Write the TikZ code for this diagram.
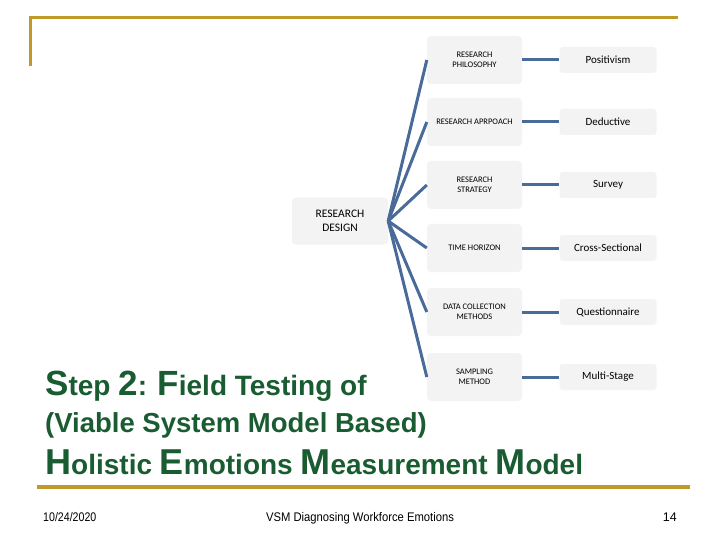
\documentclass[tikz,border=0pt]{standalone}
\usepackage{fontspec}
\setmainfont{Liberation Sans}
\newfontfamily\carl{Carlito}
\definecolor{gold}{HTML}{C09A28}
\definecolor{ttl}{HTML}{1A5C32}
\definecolor{ln}{HTML}{4A6A9A}
\definecolor{bx}{HTML}{F3F3F3}
\begin{document}
\begin{tikzpicture}[x=1pt,y=-1pt,
  mid/.style={fill=bx,rounded corners=4pt,minimum width=95pt,minimum height=48pt,align=center,font=\carl\fontsize{8.5}{10}\selectfont,inner sep=1pt},
  rt/.style={fill=bx,rounded corners=3pt,minimum width=97pt,minimum height=26pt,font=\carl\fontsize{11}{12}\selectfont},
  con/.style={draw=ln,line width=3pt}]
\useasboundingbox (0,0) rectangle (720,540);
\draw[gold,line width=3pt] (30,66) -- (30,18) -- (678,18);
\draw[gold,line width=3.5pt] (37,487) -- (690,487);
\node[fill=bx,rounded corners=4pt,minimum width=96pt,minimum height=47pt,align=center,font=\carl\fontsize{11.5}{14}\selectfont] (rd) at (340,221) {RESEARCH\\DESIGN};
\foreach \n/\y/\a/\b in {1/60/RESEARCH\\PHILOSOPHY/Positivism,2/122/RESEARCH APRPOACH/Deductive,3/185/RESEARCH\\STRATEGY/Survey,4/248/TIME HORIZON/Cross-Sectional,5/312/DATA COLLECTION\\METHODS/Questionnaire,6/377/SAMPLING\\METHOD/Multi-Stage}{
  \node[mid] (m\n) at (474.5,\y) {\a};
  \node[rt] (r\n) at (608,\y) {\b};
  \draw[con] (rd.east) -- (m\n.west);
  \draw[con] (m\n.east) -- (r\n.west);
}
\node[anchor=base west,text=ttl,font=\bfseries,inner sep=0] (t1) at (45,395) {\fontsize{35}{35}\selectfont S\fontsize{28}{28}\selectfont tep \fontsize{35}{35}\selectfont 2\fontsize{28}{28}\selectfont : \fontsize{35}{35}\selectfont F\fontsize{28}{28}\selectfont ield Testing of};
\node[anchor=base west,text=ttl,font=\bfseries,inner sep=0] (t2) at (45,432) {\fontsize{27.5}{28}\selectfont (Viable System Model Based)};
\node[anchor=base west,text=ttl,font=\bfseries,inner sep=0] (t3) at (45,474) {\fontsize{36}{36}\selectfont H\fontsize{28}{28}\selectfont olistic \fontsize{36}{36}\selectfont E\fontsize{28}{28}\selectfont motions \fontsize{36}{36}\selectfont M\fontsize{28}{28}\selectfont easurement \fontsize{36}{36}\selectfont M\fontsize{28}{28}\selectfont odel};
\node[anchor=base west,font=\fontsize{12.5}{12.5}\selectfont,inner sep=0] (d) at (43,521) {\scalebox{0.85}[1]{10/24/2020}};
\node[anchor=base,font=\fontsize{12.5}{12.5}\selectfont,inner sep=0] (f) at (360,521) {\scalebox{0.9}[1]{VSM Diagnosing Workforce Emotions}};
\node[anchor=base east,font=\fontsize{12.5}{12.5}\selectfont,inner sep=0] (p) at (677,521) {14};
\end{tikzpicture}
\end{document}
